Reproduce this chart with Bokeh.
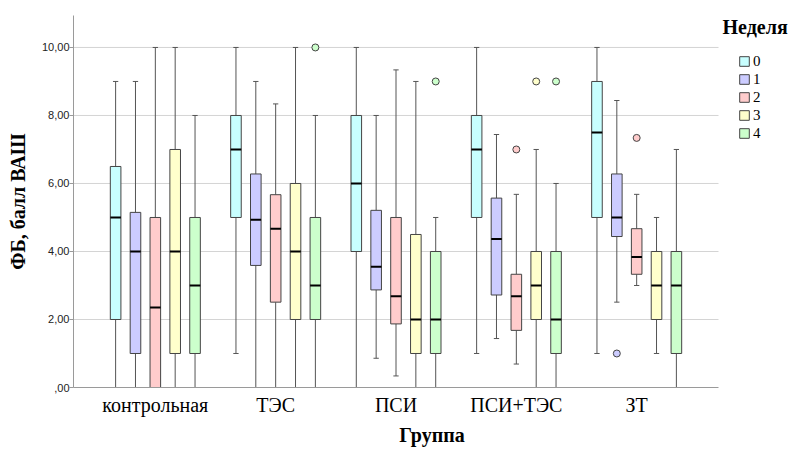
import numpy as np
from bokeh.plotting import figure
from bokeh.models import (ColumnDataSource, Range1d, FixedTicker, Legend, LegendItem, Label)
from bokeh.embed import file_html
from bokeh.resources import INLINE

# ---- data -------------------------------------------------------------
groups = ["контрольная", "ТЭС", "ПСИ", "ПСИ+ТЭС", "ЗТ"]
weeks = ["0", "1", "2", "3", "4"]
colors = ["#c8ffff", "#ccccff", "#ffcccc", "#ffffcc", "#ccffcc"]

# per week: values for each group (same order as `groups`)
low = {
    "0": [0, 1, 0, 1, 1],
    "1": [0, 0, 0.86, 1.44, 2.51],
    "2": [0, 0, 0.34, 0.69, 3.0],
    "3": [0, 0, 0, 0, 1],
    "4": [0, 0, 0, 0, 0],
}
q1 = {
    "0": [2, 5, 4, 5, 5],
    "1": [1, 3.59, 2.87, 2.72, 4.44],
    "2": [0, 2.51, 1.87, 1.68, 3.33],
    "3": [1, 2, 1, 2, 2],
    "4": [1, 2, 1, 1, 1],
}
med = {
    "0": [5, 7, 6, 7, 7.5],
    "1": [4, 4.93, 3.55, 4.37, 5.0],
    "2": [2.35, 4.67, 2.68, 2.68, 3.84],
    "3": [4, 4, 2, 3, 3],
    "4": [3, 3, 2, 2, 3],
}
q3 = {
    "0": [6.5, 8, 8, 8, 9],
    "1": [5.15, 6.28, 5.21, 5.57, 6.28],
    "2": [5, 5.67, 5, 3.33, 4.67],
    "3": [7, 6, 4.5, 4, 4],
    "4": [5, 5, 4, 4, 4],
}
up = {
    "0": [9, 10, 10, 10, 10],
    "1": [9, 9, 8, 7.44, 8.44],
    "2": [10, 8.34, 9.34, 5.68, 5.68],
    "3": [10, 10, 9, 7, 5],
    "4": [8, 8, 5, 6, 7],
}
# outliers: (group index, week, value)
out_group = [1, 2, 3, 3, 3, 4, 4]
out_week = ["4", "4", "2", "3", "4", "1", "2"]
out_value = [10, 9, 7, 9, 9, 1, 7.34]

y_ticks = [0, 2, 4, 6, 8, 10]
y_tick_labels = [",00", "2,00", "4,00", "6,00", "8,00", "10,00"]

# ---- figure -----------------------------------------------------------
SERIF = "Liberation Serif"
SANS = "Liberation Sans"

X_LO, X_HI = -0.68, 4.68           # extent of the category axis
FRAME_L, AXIS_R, FIG_W = 73, 718, 790
x_end = X_LO + (FIG_W - FRAME_L) * (X_HI - X_LO) / (AXIS_R - FRAME_L)

p = figure(width=FIG_W, height=448, output_backend="svg", toolbar_location=None,
           x_range=Range1d(X_LO, x_end), y_range=Range1d(0, 10.94),
           min_border_left=FRAME_L, min_border_right=0, min_border_top=15,
           min_border_bottom=60)
p.outline_line_color = None
p.background_fill_color = "white"
p.border_fill_color = "white"

# horizontal grid lines, limited to the axis extent
gsrc = ColumnDataSource(dict(y=y_ticks[1:], x0=[X_LO] * 5, x1=[X_HI] * 5))
p.segment("x0", "y", "x1", "y", source=gsrc, line_color="#d4d4d4", line_width=1,
          level="underlay")

step = 0.165
bw = 0.088
cap = 0.022

legend_items = []
for i, w in enumerate(weeks):
    xs = np.arange(len(groups)) + (i - 2) * step
    src = ColumnDataSource(dict(
        x=xs, xl=xs - bw / 2, xr=xs + bw / 2, cl=xs - cap, cr=xs + cap,
        low=low[w], q1=q1[w], med=med[w], q3=q3[w], up=up[w]))
    p.segment("x", "up", "x", "q3", source=src, line_color="#555555", line_width=1)
    p.segment("x", "q1", "x", "low", source=src, line_color="#555555", line_width=1)
    p.segment("cl", "up", "cr", "up", source=src, line_color="#555555", line_width=1)
    p.segment("cl", "low", "cr", "low", source=src, line_color="#555555", line_width=1)
    r = p.vbar(x="x", width=bw, top="q3", bottom="q1", source=src,
               fill_color=colors[i], line_color="#444444", line_width=1)
    p.segment("xl", "med", "xr", "med", source=src, line_color="black", line_width=2)
    legend_items.append(LegendItem(label=w, renderers=[r]))

# outliers
ox = [g + (weeks.index(w) - 2) * step for g, w in zip(out_group, out_week)]
oc = [colors[weeks.index(w)] for w in out_week]
p.scatter(x=ox, y=out_value, size=7, marker="circle", fill_color=oc,
          line_color="#444444", line_width=1)

# axes
p.xaxis.bounds = (X_LO, X_HI)
p.xaxis.ticker = FixedTicker(ticks=list(range(len(groups))))
p.xaxis.major_label_overrides = {i: g for i, g in enumerate(groups)}
p.xaxis.major_tick_line_color = None
p.xaxis.minor_tick_line_color = None
p.xaxis.major_label_text_font = SERIF
p.xaxis.major_label_text_font_size = "20px"
p.xaxis.major_label_text_color = "black"
p.xaxis.major_label_standoff = 0
p.xaxis.axis_line_color = "#9a9a9a"
p.xaxis.axis_label = "Группа"
p.xaxis.axis_label_text_font = SERIF
p.xaxis.axis_label_text_font_style = "bold"
p.xaxis.axis_label_text_font_size = "20px"
p.xaxis.axis_label_text_color = "black"
p.xaxis.axis_label_standoff = 5

p.yaxis.ticker = FixedTicker(ticks=y_ticks)
p.yaxis.major_label_overrides = {t: l for t, l in zip(y_ticks, y_tick_labels)}
p.yaxis.major_tick_out = 4
p.yaxis.major_tick_in = 0
p.yaxis.major_tick_line_color = "#9a9a9a"
p.yaxis.minor_tick_line_color = None
p.yaxis.major_label_text_font = SANS
p.yaxis.major_label_text_font_size = "11px"
p.yaxis.major_label_text_color = "#222222"
p.yaxis.major_label_standoff = 0
p.yaxis.axis_line_color = "#9a9a9a"
p.yaxis.axis_label = "ФБ, балл ВАШ"
p.yaxis.axis_label_text_font = SERIF
p.yaxis.axis_label_text_font_style = "bold"
p.yaxis.axis_label_text_font_size = "20px"
p.yaxis.axis_label_text_color = "black"
p.yaxis.axis_label_standoff = 10

p.xgrid.grid_line_color = None
p.ygrid.grid_line_color = None

# legend
legend = Legend(items=legend_items, location=(665, 245), orientation="vertical",
                padding=0, margin=0, spacing=0, border_line_color=None,
                background_fill_alpha=0, glyph_width=12, glyph_height=12,
                label_height=18, label_standoff=3,
                label_text_font=SERIF, label_text_font_size="15px",
                label_text_color="black")
p.add_layout(legend)
p.add_layout(Label(x=649, y=361, x_units="screen", y_units="screen",
                   text="Неделя", text_font=SERIF, text_font_style="bold",
                   text_font_size="20px", text_baseline="middle",
                   text_align="left", text_color="black"))

open("out.html", "w").write(file_html(p, INLINE))
